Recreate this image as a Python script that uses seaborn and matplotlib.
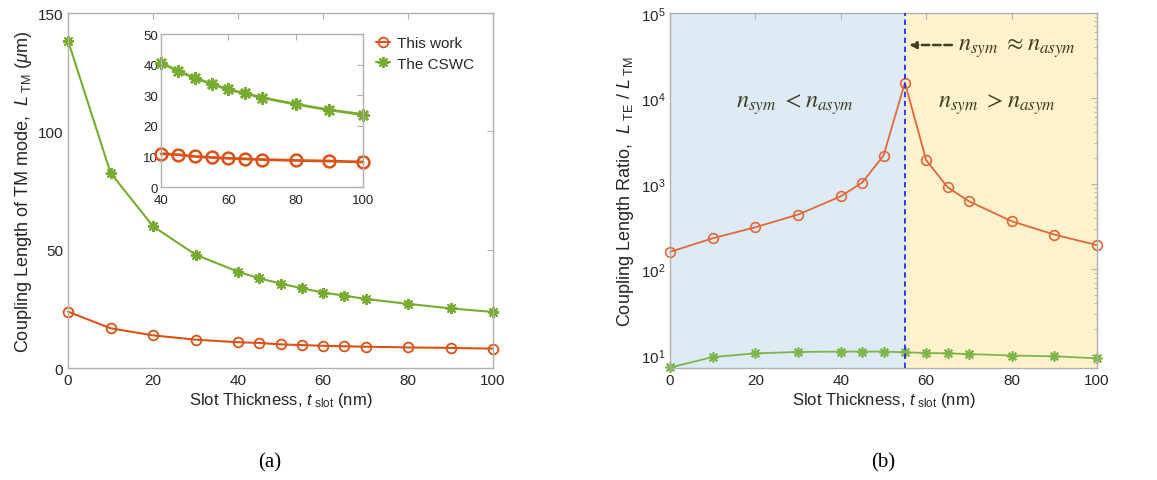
import matplotlib
matplotlib.use('Agg')
import matplotlib.pyplot as plt
import seaborn as sns
import pandas as pd

# slot thickness (nm)
t_slot = [0, 10, 20, 30, 40, 45, 50, 55, 60, 65, 70, 80, 90, 100]

# (a) coupling length of TM mode (um)
ltm_this_work = [23.8, 16.8, 13.8, 12.0, 10.9, 10.6, 10.0, 9.7, 9.4, 9.2, 9.0, 8.7, 8.5, 8.2]
ltm_cswc = [138.3, 82.5, 59.9, 47.9, 40.7, 37.9, 35.7, 33.7, 31.9, 30.6, 29.2, 27.1, 25.2, 23.7]

# (b) coupling length ratio L_TE / L_TM
ratio_this_work = [160, 231, 311, 438, 717, 1037, 2145, 15300, 1893, 914, 627, 366, 255, 192]
ratio_cswc = [7.1, 9.4, 10.4, 10.8, 10.9, 10.9, 10.9, 10.7, 10.5, 10.4, 10.2, 9.8, 9.6, 9.1]

df = pd.DataFrame({'t': t_slot, 'ltm_tw': ltm_this_work, 'ltm_cs': ltm_cswc,
                   'r_tw': ratio_this_work, 'r_cs': ratio_cswc})
df_in = df[df['t'] >= 40]

sns.set_style('white')
plt.rcParams['font.family'] = ['Liberation Sans', 'DejaVu Sans']
plt.rcParams['mathtext.fontset'] = 'custom'
plt.rcParams['mathtext.rm'] = 'Liberation Sans'
plt.rcParams['mathtext.sf'] = 'Liberation Sans'
plt.rcParams['mathtext.it'] = 'Liberation Sans:italic'
plt.rcParams['mathtext.bf'] = 'Liberation Sans:bold'

red = '#D95319'
red2 = '#E0683A'
green = '#77AC30'
green2 = '#7DB548'
spine_c = '#B0B0B0'
txt_c = '#262626'
ann_c = '#403F25'
star = (8, 2, 0)


def style_axes(ax, labelsize=11):
    for s in ax.spines.values():
        s.set_color(spine_c)
        s.set_linewidth(1.0)
    ax.tick_params(direction='in', which='both', top=True, right=True,
                   colors=spine_c, labelcolor=txt_c, labelsize=labelsize,
                   length=4)
    ax.tick_params(which='minor', length=2)


fig = plt.figure(figsize=(11.57, 4.81), dpi=100)
ax1 = fig.add_axes([0.0588, 0.2328, 0.3673, 0.738])
ax2 = fig.add_axes([0.5791, 0.2328, 0.3691, 0.738])
ax_in = fig.add_axes([0.1392, 0.609, 0.1746, 0.318])

# (a)
sns.lineplot(data=df, x='t', y='ltm_tw', ax=ax1, color=red, lw=1.5,
             marker='o', markersize=7, markerfacecolor='none',
             markeredgecolor=red, markeredgewidth=1.3, label='This work',
             clip_on=False)
sns.lineplot(data=df, x='t', y='ltm_cs', ax=ax1, color=green, lw=1.5,
             marker=star, markersize=8, markeredgecolor=green,
             markeredgewidth=1.4, label='The CSWC', clip_on=False)
ax1.set_xlim(0, 100)
ax1.set_ylim(0, 150)
ax1.set_xticks([0, 20, 40, 60, 80, 100])
ax1.set_yticks([0, 50, 100, 150])
ax1.set_xlabel(r'Slot Thickness, $t_{\ \mathrm{slot}}$ (nm)', fontsize=12, color=txt_c, labelpad=2)
ax1.set_ylabel(r'Coupling Length of TM mode,  $L_{\ \mathrm{TM}}$ ($\mu$m)', fontsize=13, color=txt_c, labelpad=3)
style_axes(ax1)
leg = ax1.legend(loc='upper right', bbox_to_anchor=(0.985, 0.97), frameon=False,
                 fontsize=11, handlelength=0.9, handletextpad=0.5,
                 labelspacing=0.45, borderaxespad=0.4)
for t in leg.get_texts():
    t.set_color(txt_c)

# inset
sns.lineplot(data=df_in, x='t', y='ltm_tw', ax=ax_in, color=red, lw=2.0,
             marker='o', markersize=8.5, markerfacecolor='none',
             markeredgecolor=red, markeredgewidth=1.8, legend=False,
             clip_on=False)
sns.lineplot(data=df_in, x='t', y='ltm_cs', ax=ax_in, color=green, lw=2.0,
             marker=star, markersize=9, markeredgecolor=green,
             markeredgewidth=1.8, legend=False, clip_on=False)
ax_in.set_xlim(40, 100)
ax_in.set_ylim(0, 50)
ax_in.set_xticks([40, 60, 80, 100])
ax_in.set_yticks([0, 10, 20, 30, 40, 50])
ax_in.set_xlabel('')
ax_in.set_ylabel('')
style_axes(ax_in, labelsize=9.5)
ax_in.tick_params(axis='x', pad=5)
ax_in.tick_params(axis='y', pad=2)

# (b)
ax2.axvspan(0, 55, color='#DEEBF7', zorder=0, lw=0)
ax2.axvspan(55, 100, color='#FFF2CC', zorder=0, lw=0)
sns.lineplot(data=df, x='t', y='r_tw', ax=ax2, color=red2, lw=1.3,
             marker='o', markersize=7, markerfacecolor='none',
             markeredgecolor=red2, markeredgewidth=1.2, legend=False,
             clip_on=False)
sns.lineplot(data=df, x='t', y='r_cs', ax=ax2, color=green2, lw=1.3,
             marker=star, markersize=7.5, markeredgecolor=green2,
             markeredgewidth=1.2, legend=False, clip_on=False)
ax2.axvline(55, color='#1F2EFF', ls=(0, (3, 2)), lw=1.3, zorder=3)
ax2.set_yscale('log')
ax2.set_xlim(0, 100)
ax2.set_ylim(7, 1e5)
ax2.set_xticks([0, 20, 40, 60, 80, 100])
ax2.set_yticks([1e1, 1e2, 1e3, 1e4, 1e5])
ax2.set_xlabel(r'Slot Thickness, $t_{\ \mathrm{slot}}$ (nm)', fontsize=12, color=txt_c, labelpad=2)
ax2.set_ylabel(r'Coupling Length Ratio,  $L_{\ \mathrm{TE}}$ / $L_{\ \mathrm{TM}}$', fontsize=13, color=txt_c, labelpad=3)
style_axes(ax2)

ann = dict(transform=ax2.transAxes, va='center', fontsize=17.5, color=ann_c,
           math_fontfamily='stix')
ax2.text(0.293, 0.744, r'$n_{sym}\ < n_{asym}$', ha='center', **ann)
ax2.text(0.766, 0.744, r'$n_{sym}\ > n_{asym}$', ha='center', **ann)
ax2.text(0.674, 0.904, r'$n_{sym}\ \approx n_{asym}$', ha='left', **ann)
ax2.annotate('', xy=(0.56, 0.91), xytext=(0.66, 0.91),
             xycoords='axes fraction', textcoords='axes fraction',
             arrowprops=dict(arrowstyle='-|>', color=ann_c, lw=1.8,
                             ls=(0, (3, 1.5)), mutation_scale=10,
                             shrinkA=0, shrinkB=0))

fig.text(0.233, 0.037, '(a)', family='Liberation Serif', fontsize=15,
         ha='center', va='center', color='black')
fig.text(0.763, 0.037, '(b)', family='Liberation Serif', fontsize=15,
         ha='center', va='center', color='black')

fig.savefig('out.png', dpi=100)
plt.close(fig)
